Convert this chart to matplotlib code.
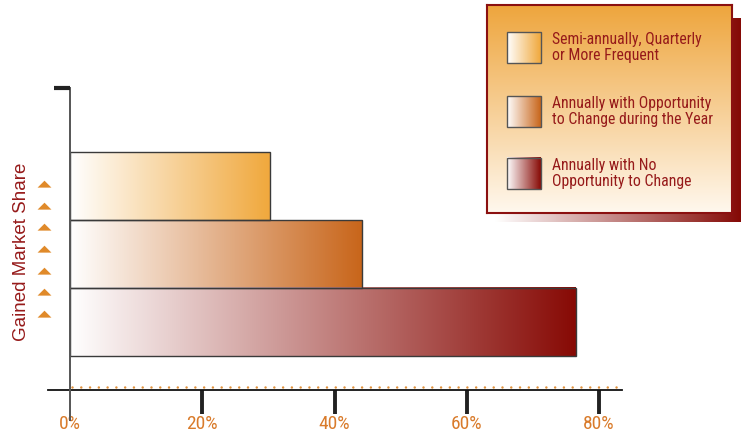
import matplotlib
matplotlib.use('Agg')
import matplotlib.pyplot as plt
import numpy as np
from matplotlib.colors import LinearSegmentedColormap
from matplotlib import font_manager

# dane
categories = ['Semi-annually, Quarterly\nor More Frequent',
              'Annually with Opportunity\nto Change during the Year',
              'Annually with No\nOpportunity to Change']
values = [30.3, 44.2, 76.5]
colors = ['#f0a83c', '#c8651a', '#870a05']
tick_vals = [0, 20, 40, 60, 80]
tick_labels = ['0%', '20%', '40%', '60%', '80%']
ylabel = 'Gained Market Share'

W, H = 741, 433
names = {f.name for f in font_manager.fontManager.ttflist}
narrow = None
for cand in ['Liberation Sans Narrow', 'Roboto Condensed', 'Open Sans Condensed',
             'DejaVu Sans Condensed', 'Arial Narrow']:
    if cand in names:
        narrow = cand
        break
plt.rcParams['font.family'] = ['Liberation Sans', 'DejaVu Sans']

if narrow is not None:
    nfont = dict(family=[narrow, 'DejaVu Sans'])
    leg_fs, tick_fs = 11.3, 14
else:
    nfont = dict(family=['Liberation Sans', 'DejaVu Sans'])
    leg_fs, tick_fs = 9.5, 12

red_txt = '#961a1a'
orange_txt = '#d97b2b'


def box(x0, y0, x1, y1):
    # pozycja w pikselach -> współrzędne figury
    return [x0 / W, 1 - y1 / H, (x1 - x0) / W, (y1 - y0) / H]


def cmap_to(c):
    return LinearSegmentedColormap.from_list('', ['#ffffff', c])


grad_h = np.linspace(0, 1, 256).reshape(1, -1)

fig = plt.figure(figsize=(W / 100, H / 100), dpi=100)
ax = fig.add_axes(box(48, 88, 622, 390))

px = 6.6125  # pikseli na 1%
xmin, xmax = -22 / px, 80 + 23 / px
ytop = 302 / 68

ypos = [3, 2, 1]
for v, c, yc in zip(values, colors, ypos):
    ax.imshow(grad_h, extent=[0, v, yc - 0.5, yc + 0.5], cmap=cmap_to(c),
              aspect='auto', zorder=2, interpolation='bilinear')
    ax.barh(yc, v, height=1, fill=False, edgecolor='#3a3a3a', lw=1, zorder=3)

ax.set_xlim(xmin, xmax)
ax.set_ylim(0, ytop)

for s in ['top', 'right', 'left']:
    ax.spines[s].set_visible(False)
ax.spines['bottom'].set_linewidth(1.3)
ax.spines['bottom'].set_color('#111111')

# oś Y z "czapką"
ax.plot([0, 0], [-30 / 68, ytop], color='#555555', lw=1.4, clip_on=False, zorder=4)
ax.plot([-16 / px, 0], [ytop, ytop], color='#222222', lw=3, clip_on=False,
        solid_capstyle='butt', zorder=4)

# linia kropkowana
ax.plot([0.3, 83], [3 / 68, 3 / 68], color='#e0903a', lw=1.8,
        linestyle=(0, (0.01, 3.5)), dash_capstyle='round', zorder=3)

ax.set_yticks([])
ax.set_xticks(tick_vals, tick_labels)
ax.tick_params(axis='x', length=17, width=2.8, color='#222222',
               labelcolor=orange_txt, labelsize=tick_fs, pad=1)
ax.xaxis.get_major_ticks()[0].tick1line.set_visible(False)
for t in ax.get_xticklabels():
    t.set_fontfamily(nfont['family'])

# strzałki
tri = [(-1, -0.45), (1, -0.45), (0, 0.55), (-1, -0.45)]
tri_py = np.linspace(184, 314, 7)
fig.lines.append(plt.Line2D([44 / W] * 7, 1 - tri_py / H, marker=tri, ls='none',
                            color='#e08a2a', ms=10, markeredgewidth=0,
                            transform=fig.transFigure))

fig.text(22 / W, 1 - 252 / H, ylabel, rotation=90, color=red_txt, fontsize=13.5,
         ha='center', va='center')

# legenda - cień
sh = fig.add_axes(box(495, 18, 741, 222))
sh.imshow(grad_h, cmap=cmap_to('#850a06'), aspect='auto', extent=[0, 1, 0, 1])
sh.axis('off')

leg = fig.add_axes(box(487, 5, 732, 213))
grad_v = np.linspace(0, 1, 256).reshape(-1, 1)
leg.imshow(grad_v, cmap=LinearSegmentedColormap.from_list('', ['#eea53c', '#fff8ee']),
           aspect='auto', extent=[0, 245, 208, 0])
leg.set_xticks([])
leg.set_yticks([])
for s in leg.spines.values():
    s.set_color('#8b1010')
    s.set_linewidth(1.5)

sw_top = [27, 91, 153]
for lab, c, y0 in zip(categories, colors, sw_top):
    leg.imshow(grad_h, cmap=cmap_to(c), aspect='auto', extent=[20, 54, y0 + 31, y0],
               zorder=2)
    leg.add_patch(plt.Rectangle((20, y0), 34, 31, fill=False, edgecolor='#555555',
                                lw=1, zorder=3))
    leg.text(65, y0 + 15.5, lab, color=red_txt, fontsize=leg_fs, va='center',
             ha='left', linespacing=1.1, **nfont)
leg.set_xlim(0, 245)
leg.set_ylim(208, 0)

fig.savefig('out.png', dpi=100)
